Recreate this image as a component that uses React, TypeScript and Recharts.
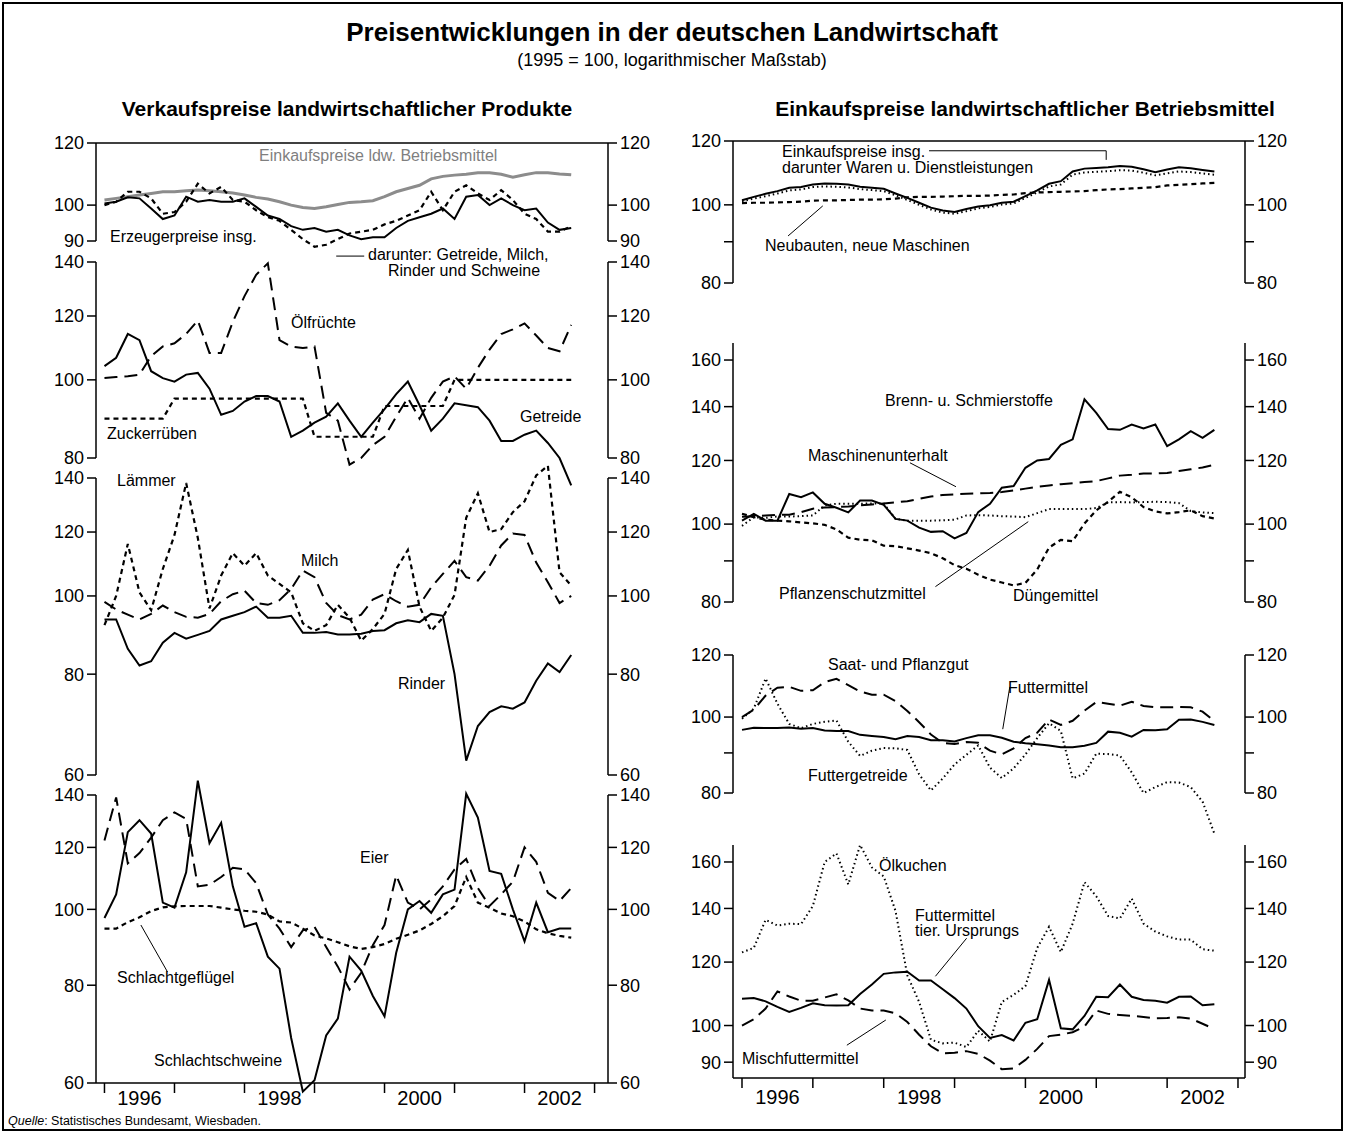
import React from "react";
import { LineChart, Line, XAxis, YAxis, ReferenceLine } from "recharts";

const FONT = '"Liberation Sans", Arial, Helvetica, sans-serif';

// Zweimonatswerte, Jan 1996 bis Sep 2002 (1995 = 100)
const perioden = [
  "01/96", "03/96", "05/96", "07/96", "09/96", "11/96",
  "01/97", "03/97", "05/97", "07/97", "09/97", "11/97",
  "01/98", "03/98", "05/98", "07/98", "09/98", "11/98",
  "01/99", "03/99", "05/99", "07/99", "09/99", "11/99",
  "01/00", "03/00", "05/00", "07/00", "09/00", "11/00",
  "01/01", "03/01", "05/01", "07/01", "09/01", "11/01",
  "01/02", "03/02", "05/02", "07/02", "09/02",
];

const jahresTicks = [1996, 1996.5, 1997, 1998, 1998.5, 1999, 2000, 2000.5, 2001, 2002, 2002.5, 2003];

// Verkaufspreise: Gesamt
const einkaufLdw = [101.5, 102, 102.5, 103, 103.5, 104, 104, 104.3, 104.5, 104.3, 104, 103.6, 103, 102.3, 101.8, 101, 100, 99.3, 99, 99.5, 100.2, 100.8, 101, 101.3, 102.5, 104, 105, 106, 108, 108.8, 109.2, 109.5, 110, 110, 109.5, 108.5, 109.3, 110, 110, 109.6, 109.3];
const erzeugerInsg = [100.5, 101, 102.3, 102, 99, 96, 97, 102.5, 101, 101.5, 101, 101, 102, 99.5, 97, 96, 94, 93, 93.5, 92.5, 93, 91.5, 90.5, 91, 91, 93.5, 95.5, 96.5, 97.5, 99, 96, 102.5, 103, 100, 102, 100, 98.5, 99, 95, 93, 93.5];
const getreideMilchRinderSchweine = [100, 101, 104, 104, 102, 97.5, 98, 101, 106.5, 103.5, 105.5, 101.5, 101, 98.5, 96.5, 95.5, 93, 90.5, 88.5, 89, 90.5, 92, 92.5, 93, 94.5, 95.5, 97, 98.5, 104, 98.5, 104, 106, 103.5, 101.5, 104.5, 101.5, 97.5, 96, 92.5, 92.5, 94];

// Verkaufspreise: pflanzliche Produkte
const getreide = [104, 106.5, 114, 112, 102.5, 100.5, 99.5, 101.5, 102, 97.5, 90.5, 91.5, 94, 95.5, 95.5, 94, 85, 86.5, 88.5, 90, 93.5, 89, 85, 88.5, 92, 96, 99.5, 93, 86.5, 89.5, 93.5, 93, 92.5, 89, 84, 84, 85.5, 86.5, 83.5, 80, 74];
const oelfruechte = [100.5, 100.8, 101, 101.5, 107, 110, 111, 114, 118.5, 108, 108, 118, 127, 135, 139.5, 112, 110, 109.5, 110, 91, 89, 78.5, 80, 83, 85, 90, 95, 89.5, 95, 99.5, 101, 97.5, 103.5, 109, 114, 115.5, 117.5, 113.5, 109.5, 108.5, 117];
const zuckerrueben = [89.5, 89.5, 89.5, 89.5, 89.5, 89.5, 94.8, 94.8, 94.8, 94.8, 94.8, 94.8, 94.8, 94.8, 94.8, 94.8, 94.8, 94.8, 85, 85, 85, 85, 85, 85, 92.8, 92.8, 92.8, 92.8, 92.8, 92.8, 100, 100, 100, 100, 100, 100, 100, 100, 100, 100, 100];

// Verkaufspreise: Rinder, Milch, Lämmer
const rinder = [93.5, 93.5, 86, 82, 83, 87.5, 90, 88.5, 89.5, 90.5, 93.5, 94.5, 95.5, 97, 94, 94, 94.5, 90, 90, 90.2, 89.6, 89.6, 89.8, 90.5, 90.7, 92.5, 93.3, 92.8, 95, 94.5, 80, 62.5, 69, 71.8, 73, 72.5, 73.8, 78.5, 82.5, 80.5, 84.5];
const milch = [98.3, 96.2, 94.8, 93.5, 95, 97.3, 95.5, 94.2, 94, 95, 98.5, 100.5, 101.5, 98, 97.5, 98.8, 102, 107.5, 105.5, 98, 94.7, 93.5, 94.8, 99, 100.5, 98.5, 97, 97.5, 102.5, 106.5, 110.5, 105.5, 104.5, 109, 115.5, 119.5, 119, 110, 104, 98, 100];
const laemmer = [92, 100, 116, 101, 96, 108, 119, 138, 118, 96.5, 106, 113, 109, 113, 106, 103.5, 101, 92.5, 90.5, 92, 97.5, 94, 88, 91, 95, 108, 114, 97, 90.5, 94, 100.3, 125, 134, 120, 121, 127, 131, 141, 145, 107, 103];

// Verkaufspreise: Schweine, Eier, Geflügel
const schweine = [97.5, 104.5, 125.5, 130, 125, 102, 100.5, 111.5, 146, 121.5, 129, 107, 95, 96, 87, 84, 68.5, 58.5, 60.5, 69, 72.5, 87, 83.5, 77.5, 73, 88, 100, 102.5, 99, 104.5, 106, 140.5, 131, 112, 111, 100, 91, 102, 93.5, 94.5, 94.5];
const eier = [122.5, 139, 114.5, 118, 123.5, 130, 133, 130.5, 107, 107.5, 110, 113, 112.5, 108, 98.5, 94.5, 89.5, 94, 95, 89.5, 84.5, 79, 83, 90, 95.5, 110.5, 102, 100, 103, 107, 112.5, 116, 106.5, 101, 104.5, 108.5, 120, 115, 105, 102.5, 106.5];
const gefluegel = [94.5, 94.5, 96.3, 97.7, 99.5, 100.6, 100.9, 101, 101, 101, 100.5, 100, 99.6, 99.3, 98.5, 96.5, 96.2, 94.5, 92.6, 91.8, 90.8, 89.7, 89, 89.5, 90.3, 91.7, 92.8, 94, 95.8, 98, 101, 110, 102, 100.5, 98.8, 98, 96.5, 94.3, 93.2, 92.5, 92];

// Einkaufspreise: Gesamt
const einkaufInsg = [101.3, 102.3, 103.2, 104, 105, 105.2, 106, 106.3, 106.2, 106, 105.3, 105, 104.7, 103.3, 102, 100.6, 99.2, 98.4, 98, 98.8, 99.5, 99.9, 100.6, 100.9, 102.5, 104.2, 106.2, 107, 110, 110.9, 111.1, 111.3, 111.7, 111.5, 110.7, 109.8, 110.6, 111.3, 111, 110.5, 110];
const warenDienste = [101, 101.8, 102.5, 103.3, 104.2, 104.5, 105.2, 105.4, 105.3, 105.1, 104.6, 104.3, 104, 102.8, 101.4, 100, 98.7, 97.8, 97.5, 98.2, 99, 99.4, 100.1, 100.4, 102, 103.6, 105.4, 106, 109, 109.7, 109.9, 110.1, 110.4, 110.3, 109.6, 108.8, 109.4, 110, 109.8, 109.4, 109];
const neubauten = [100.5, 100.6, 100.6, 100.7, 100.8, 100.9, 101.2, 101.3, 101.3, 101.4, 101.5, 101.5, 101.6, 101.8, 102.2, 102.3, 102.3, 102.4, 102.5, 102.6, 102.6, 102.7, 102.9, 103, 103.4, 103.6, 103.7, 103.8, 103.9, 104, 104.3, 104.5, 104.6, 104.8, 105, 105.2, 105.7, 105.9, 106.1, 106.3, 106.5];

// Einkaufspreise: Energie, Maschinen, Pflanzenschutz, Dünger
const brennstoffe = [101, 103, 101, 101, 109, 108, 109.5, 106, 104.8, 103.4, 107, 107, 105.7, 101.5, 101, 99, 97.8, 98, 96, 97.5, 103.5, 106, 111, 111.5, 117.5, 120, 120.5, 125.5, 127.5, 143, 137.5, 131.3, 131, 133, 131.5, 133, 125, 127.5, 130.5, 128, 131];
const maschinen = [102.1, 102.3, 102.5, 102.7, 102.7, 103.5, 104.5, 104.9, 105, 105.2, 105.5, 105.8, 106.1, 106.4, 106.8, 107.5, 108.2, 108.7, 108.9, 109.1, 109.2, 109.3, 109.6, 110.1, 110.7, 111.3, 111.7, 112.1, 112.4, 112.8, 113.1, 114, 114.9, 115.2, 115.6, 115.6, 115.8, 116.4, 117, 117.6, 118.5];
const pflanzenschutz = [99.5, 102, 101.8, 102.2, 102.2, 102.3, 102.5, 105.5, 106, 106, 106, 106.1, 106.1, 101.5, 101, 101, 101, 101.1, 101.3, 102.5, 102.6, 102.5, 102.3, 102.2, 102, 103.2, 104.4, 104.4, 104.4, 104.4, 104.7, 106.4, 106.5, 106.4, 106.5, 106.6, 106.5, 106.2, 103.8, 103.4, 103.2];
const duenger = [103, 102, 101.3, 101, 100.8, 100.5, 100.2, 99.8, 98.5, 96.2, 95.6, 95.5, 94, 93.9, 93.3, 92.7, 92, 90.7, 88.9, 88, 86.5, 85.3, 84.6, 83.9, 84.5, 87.8, 93.5, 95.6, 95.2, 100.2, 104, 106.6, 109.7, 108, 105, 103.7, 103.1, 103.5, 104, 102.3, 101.6];

// Einkaufspreise: Futter und Saatgut
const futtermittel = [96.3, 96.9, 96.8, 96.8, 97, 96.6, 96.8, 96.1, 96, 96, 94.9, 94.6, 94.3, 93.7, 94.6, 94.3, 93.4, 93.4, 93.1, 94, 94.8, 94.8, 94.1, 93, 92.6, 92.3, 92, 91.5, 91.5, 91.9, 92.7, 95.8, 95.5, 94.4, 96.3, 96.2, 96.5, 99.2, 99.3, 98.6, 97.7];
const saatgut = [100, 102.2, 106.5, 109, 109.3, 108, 108.2, 110.8, 111.9, 109.8, 107.8, 106.8, 106.8, 104.8, 101.8, 98.5, 95, 92.7, 92.4, 92.9, 92.7, 90.6, 89.6, 91.2, 94, 95.5, 99.3, 97.7, 98.9, 101.9, 104.5, 104, 103.4, 104.6, 103.3, 102.9, 102.9, 103, 102.9, 101.6, 98.8];
const futtergetreide = [99.5, 102.5, 112, 104, 98, 96.8, 98, 98.6, 99, 93, 89.2, 90.6, 91.3, 91.2, 90.8, 84.5, 80.6, 83.5, 87, 89.5, 92, 86.2, 83.6, 86, 89.6, 94, 98.2, 96, 83.5, 84.7, 89.8, 89.7, 89.3, 85, 80, 81.4, 82.6, 82.5, 81.4, 78, 71];

// Einkaufspreise: Ölkuchen, Futtermittel tier. Ursprungs, Mischfutter
const oelkuchen = [123.4, 125, 135.5, 133.3, 134, 133.8, 141, 160, 164, 150, 168, 157.5, 153.5, 139, 115.5, 107, 96, 95, 95.2, 94, 98.5, 95.5, 107, 109.2, 112, 125, 132.8, 123.5, 134, 151, 145, 137, 136, 144, 134, 131, 129.2, 128, 128, 124.5, 124];
const futterTier = [108, 108.2, 107.2, 105.5, 104, 105.2, 106.6, 106, 105.9, 106, 109.5, 112.5, 116, 116.5, 116.7, 113.8, 113.8, 111, 108.2, 105, 99.8, 96.5, 97.3, 95.8, 100.8, 101.8, 114, 99.2, 98.9, 102.8, 108.6, 108.5, 112.5, 108.6, 107.6, 107.4, 106.8, 108.6, 108.7, 106, 106.3];
const mischfutter = [100, 101.8, 105, 110.3, 108.7, 107.4, 107.4, 108.4, 109.4, 107.5, 105, 104.4, 104.4, 103.6, 101, 97.4, 94.2, 92.3, 92.5, 92.9, 92.2, 90.4, 88.2, 88.4, 90.6, 93.5, 97, 97.4, 98.1, 99.7, 104.4, 103.4, 103.1, 102.8, 102.5, 102.1, 102.2, 102.4, 102, 100.5, 99];

function jahrAusPeriode(p: string) {
  const [m, j] = p.split("/").map(Number);
  return (j < 50 ? 2000 + j : 1900 + j) + (m - 1) / 12;
}

type Stil = "voll" | "lang" | "kurz" | "punkt" | "grau";
const STRICH: Record<Stil, { dash?: string; breite: number; farbe: string }> = {
  voll: { breite: 2, farbe: "#000" },
  lang: { dash: "13 7", breite: 2, farbe: "#000" },
  kurz: { dash: "5 4", breite: 2.2, farbe: "#000" },
  punkt: { dash: "1.5 3", breite: 2, farbe: "#000" },
  grau: { breite: 3, farbe: "#8c8c8c" },
};

type Spur = { name: string; werte: number[]; stil: Stil };
type Punkt = { x: number; y: number };

const X_LINKS: [number, number] = [1995.879, 2003.192];
const X_RECHTS: [number, number] = [1995.873, 2003.099];

function JahrTick({ x, y, payload, versatz }: any) {
  const v = payload.value as number;
  if (Number.isInteger(v)) {
    return <line x1={x} x2={x} y1={y - 10} y2={y} stroke="#000" strokeWidth={1.5} />;
  }
  return (
    <text x={x} y={y + versatz} textAnchor="middle" fontSize={20} fontFamily={FONT} fill="#000">
      {Math.floor(v)}
    </text>
  );
}

interface PanelProps {
  links: number;
  oben: number;
  hoehe: number;
  mt: number;
  mb: number;
  domain: [number, number];
  ticks: number[];
  xDomain: [number, number];
  spuren: Spur[];
  leer90?: boolean;
  rahmenOben?: boolean;
  xAchse?: number;
  hilfslinien?: [Punkt, Punkt][];
}

function Panel(p: PanelProps) {
  const daten = perioden.map((per, i) => {
    const zeile: Record<string, number> = { t: jahrAusPeriode(per) };
    p.spuren.forEach((s) => {
      zeile[s.name] = s.werte[i];
    });
    return zeile;
  });
  const fmt = (v: number) => (p.leer90 && v === 90 ? "" : String(v));
  const achse = { stroke: "#000", strokeWidth: 1.5 };
  const tickStil = { fill: "#000", fontSize: 18, fontFamily: FONT };

  return (
    <div style={{ position: "absolute", left: p.links, top: p.oben }}>
      <LineChart width={626} height={p.hoehe} data={daten} margin={{ top: p.mt, right: 0, bottom: p.mb, left: 0 }}>
        {p.xAchse ? (
          <XAxis
            type="number"
            dataKey="t"
            domain={p.xDomain}
            allowDataOverflow
            ticks={jahresTicks}
            interval={0}
            height={40}
            tickSize={10}
            tickMargin={0}
            tickLine={false}
            axisLine={achse}
            tick={(t: any) => <JahrTick {...t} versatz={p.xAchse} />}
          />
        ) : (
          <XAxis type="number" dataKey="t" domain={p.xDomain} allowDataOverflow hide />
        )}
        <YAxis
          yAxisId="l"
          scale="log"
          domain={p.domain}
          allowDataOverflow
          ticks={p.ticks}
          interval={0}
          width={57}
          tickSize={9}
          tickMargin={3}
          axisLine={achse}
          tickLine={achse}
          tick={tickStil}
          tickFormatter={fmt}
        />
        <YAxis
          yAxisId="r"
          orientation="right"
          scale="log"
          domain={p.domain}
          allowDataOverflow
          ticks={p.ticks}
          interval={0}
          width={57}
          tickSize={9}
          tickMargin={3}
          axisLine={achse}
          tickLine={achse}
          tick={tickStil}
          tickFormatter={fmt}
        />
        {p.rahmenOben && <ReferenceLine yAxisId="l" y={p.domain[1]} stroke="#000" strokeWidth={1.5} />}
        {(p.hilfslinien || []).map((seg, i) => (
          <ReferenceLine key={i} yAxisId="l" segment={seg} ifOverflow="visible" stroke="#000" strokeWidth={1} />
        ))}
        {p.spuren.map((s) => {
          const st = STRICH[s.stil];
          return (
            <Line
              key={s.name}
              yAxisId="l"
              dataKey={s.name}
              type="linear"
              stroke={st.farbe}
              strokeWidth={st.breite}
              strokeDasharray={st.dash}
              dot={false}
              activeDot={false}
              isAnimationActive={false}
            />
          );
        })}
      </LineChart>
    </div>
  );
}

function Txt({ x, y, s = 16, farbe = "#000", fett = false, mitte = false, children }: any) {
  return (
    <div
      style={{
        position: "absolute",
        left: x,
        top: y - s * 0.55,
        fontSize: s,
        lineHeight: 1,
        fontFamily: FONT,
        color: farbe,
        fontWeight: fett ? "bold" : "normal",
        whiteSpace: "nowrap",
        transform: mitte ? "translateX(-50%)" : undefined,
      }}
    >
      {children}
    </div>
  );
}

const beschriftungen: [string, number, number, string?][] = [
  ["Einkaufspreise ldw. Betriebsmittel", 259, 157, "#7f7f7f"],
  ["Erzeugerpreise insg.", 110, 238],
  ["darunter: Getreide, Milch,", 368, 256],
  ["Rinder und Schweine", 388, 272],
  ["Ölfrüchte", 291, 324],
  ["Zuckerrüben", 107, 435],
  ["Getreide", 520, 418],
  ["Lämmer", 117, 482],
  ["Milch", 301, 562],
  ["Rinder", 398, 685],
  ["Eier", 360, 859],
  ["Schlachtgeflügel", 117, 979],
  ["Schlachtschweine", 154, 1062],
  ["Einkaufspreise insg.", 782, 153],
  ["darunter Waren u. Dienstleistungen", 782, 169],
  ["Neubauten, neue Maschinen", 765, 247],
  ["Brenn- u. Schmierstoffe", 885, 402],
  ["Maschinenunterhalt", 808, 457],
  ["Pflanzenschutzmittel", 779, 595],
  ["Düngemittel", 1013, 597],
  ["Saat- und Pflanzgut", 828, 666],
  ["Futtermittel", 1008, 689],
  ["Futtergetreide", 808, 777],
  ["Ölkuchen", 879, 867],
  ["Futtermittel", 915, 917],
  ["tier. Ursprungs", 915, 932],
  ["Mischfuttermittel", 742, 1060],
];

export default function App() {
  return (
    <div style={{ position: "absolute", left: 0, top: 0, width: 1345, height: 1133, background: "#fff", fontFamily: FONT }}>
      <style>{".recharts-surface{overflow:visible} [clip-path]{clip-path:none !important}"}</style>

      {/* Verkaufspreise (links) */}
      <Panel
        links={39} oben={125} hoehe={131} mt={18} mb={15}
        domain={[90, 120]} ticks={[90, 100, 120]} xDomain={X_LINKS} rahmenOben
        spuren={[
          { name: "einkaufLdw", werte: einkaufLdw, stil: "grau" },
          { name: "gmrs", werte: getreideMilchRinderSchweine, stil: "kurz" },
          { name: "erzeuger", werte: erzeugerInsg, stil: "voll" },
        ]}
        hilfslinien={[[{ x: 1999.31, y: 86.1 }, { x: 1999.71, y: 86.1 }]]}
      />
      <Panel
        links={39} oben={248} hoehe={225} mt={14} mb={15}
        domain={[80, 140]} ticks={[80, 100, 120, 140]} xDomain={X_LINKS}
        spuren={[
          { name: "zucker", werte: zuckerrueben, stil: "kurz" },
          { name: "oel", werte: oelfruechte, stil: "lang" },
          { name: "getreide", werte: getreide, stil: "voll" },
        ]}
      />
      <Panel
        links={39} oben={464} hoehe={326} mt={14} mb={15}
        domain={[60, 140]} ticks={[60, 80, 100, 120, 140]} xDomain={X_LINKS}
        spuren={[
          { name: "laemmer", werte: laemmer, stil: "kurz" },
          { name: "milch", werte: milch, stil: "lang" },
          { name: "rinder", werte: rinder, stil: "voll" },
        ]}
      />
      <Panel
        links={39} oben={781} hoehe={342} mt={14} mb={0}
        domain={[60, 140]} ticks={[60, 80, 100, 120, 140]} xDomain={X_LINKS} xAchse={12}
        spuren={[
          { name: "gefluegel", werte: gefluegel, stil: "kurz" },
          { name: "eier", werte: eier, stil: "lang" },
          { name: "schweine", werte: schweine, stil: "voll" },
        ]}
        hilfslinien={[[{ x: 1996.52, y: 95.5 }, { x: 1996.9, y: 83.2 }]]}
      />

      {/* Einkaufspreise (rechts) */}
      <Panel
        links={676} oben={125} hoehe={173} mt={16} mb={15}
        domain={[80, 120]} ticks={[80, 90, 100, 120]} leer90 xDomain={X_RECHTS} rahmenOben
        spuren={[
          { name: "neubauten", werte: neubauten, stil: "kurz" },
          { name: "waren", werte: warenDienste, stil: "punkt" },
          { name: "insg", werte: einkaufInsg, stil: "voll" },
        ]}
        hilfslinien={[
          [{ x: 1998.64, y: 116.7 }, { x: 2001.14, y: 116.7 }],
          [{ x: 2001.14, y: 116.7 }, { x: 2001.14, y: 113.7 }],
          [{ x: 1996.65, y: 91.5 }, { x: 1997.14, y: 99.7 }],
        ]}
      />
      <Panel
        links={676} oben={329} hoehe={288} mt={14} mb={15}
        domain={[80, 168]} ticks={[80, 90, 100, 120, 140, 160]} leer90 xDomain={X_RECHTS}
        spuren={[
          { name: "pflanzenschutz", werte: pflanzenschutz, stil: "punkt" },
          { name: "duenger", werte: duenger, stil: "kurz" },
          { name: "maschinen", werte: maschinen, stil: "lang" },
          { name: "brenn", werte: brennstoffe, stil: "voll" },
        ]}
        hilfslinien={[
          [{ x: 1998.37, y: 119.2 }, { x: 1999.02, y: 111.3 }],
          [{ x: 1998.73, y: 83.6 }, { x: 2000.04, y: 100.7 }],
        ]}
      />
      <Panel
        links={676} oben={641} hoehe={167} mt={14} mb={15}
        domain={[80, 120]} ticks={[80, 90, 100, 120]} leer90 xDomain={X_RECHTS}
        spuren={[
          { name: "futtergetreide", werte: futtergetreide, stil: "punkt" },
          { name: "saat", werte: saatgut, stil: "lang" },
          { name: "futter", werte: futtermittel, stil: "voll" },
        ]}
        hilfslinien={[[{ x: 1999.78, y: 109.3 }, { x: 1999.68, y: 96.5 }]]}
      />
      <Panel
        links={676} oben={831} hoehe={287} mt={14} mb={0}
        domain={[86, 168]} ticks={[90, 100, 120, 140, 160]} xDomain={X_RECHTS} xAchse={16}
        spuren={[
          { name: "oelkuchen", werte: oelkuchen, stil: "punkt" },
          { name: "misch", werte: mischfutter, stil: "lang" },
          { name: "tier", werte: futterTier, stil: "voll" },
        ]}
        hilfslinien={[
          [{ x: 1999.17, y: 128.5 }, { x: 1998.73, y: 115.2 }],
          [{ x: 1997.48, y: 94.5 }, { x: 1998.03, y: 101.6 }],
        ]}
      />

      {beschriftungen.map(([t, x, y, farbe], i) => (
        <Txt key={i} x={x} y={y} farbe={farbe || "#000"}>
          {t}
        </Txt>
      ))}

      <Txt x={672} y={33} s={26} fett mitte>Preisentwicklungen in der deutschen Landwirtschaft</Txt>
      <Txt x={672} y={61} s={18} mitte>(1995 = 100, logarithmischer Maßstab)</Txt>
      <Txt x={347} y={110} s={21} fett mitte>Verkaufspreise landwirtschaftlicher Produkte</Txt>
      <Txt x={1025} y={110} s={21} fett mitte>Einkaufspreise landwirtschaftlicher Betriebsmittel</Txt>
      <Txt x={8} y={1122} s={12.5}>
        <i>Quelle</i>: Statistisches Bundesamt, Wiesbaden.
      </Txt>

      <div style={{ position: "absolute", left: 2, top: 2, width: 1341, height: 1129, border: "2px solid #000", boxSizing: "border-box" }} />
    </div>
  );
}
